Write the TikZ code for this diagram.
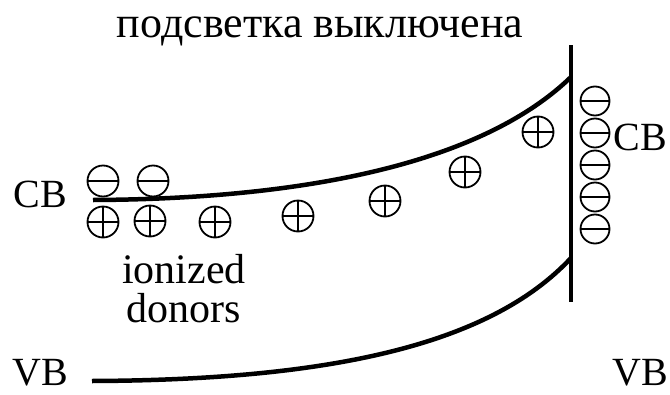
\documentclass[tikz,border=0pt]{standalone}
\usepackage{fontspec}
\setmainfont{Liberation Serif}
\begin{document}
\begin{tikzpicture}[x=1pt,y=-1pt,
  band/.style={line width=4.5pt},
  wall/.style={line width=4pt},
  charge/.style={circle,draw,line width=1.8pt,minimum size=31pt,inner sep=0pt},
  minus/.style={charge,path picture={
      \draw[line width=2pt] (path picture bounding box.west) -- (path picture bounding box.east);}},
  plus/.style={charge,path picture={
      \draw[line width=1.8pt] (path picture bounding box.west) -- (path picture bounding box.east);
      \draw[line width=1.8pt] (path picture bounding box.north) -- (path picture bounding box.south);}},
  bigtxt/.style={font=\fontsize{40}{44}\selectfont,inner sep=0pt,anchor=base},
]
\useasboundingbox (0,0) rectangle (670,394);

% title
\node[bigtxt,font=\fontsize{44}{48}\selectfont] (title) at (320,37) {подсветка выключена};

% band labels
\node[bigtxt] (cbL) at (40,207) {CB};
\node[bigtxt] (vbL) at (40,385) {VB};
\node[bigtxt] (cbR) at (640,150) {CB};
\node[bigtxt] (vbR) at (640,385) {VB};

% surface wall
\coordinate (wtop) at (571,45);
\coordinate (wbot) at (571,302);
\draw[wall] (wtop) -- (wbot);

% conduction and valence band edges
\coordinate (cbs) at (93,200);
\coordinate (cbe) at (571,77);
\coordinate (vbs) at (92,381);
\coordinate (vbe) at (571,258);
\draw[band] (cbs) .. controls (300,199) and (480,165) .. (cbe);
\draw[band] (vbs) .. controls (330,380) and (490,345) .. (vbe);

% free electrons in the bulk
\node[minus] (m1) at (103,181) {};
\node[minus] (m2) at (153,181) {};

% ionized donors in the depletion region
\node[plus] (p1) at (103,222) {};
\node[plus] (p2) at (150,221) {};
\node[plus] (p3) at (215,222) {};
\node[plus] (p4) at (298,216) {};
\node[plus] (p5) at (385,201) {};
\node[plus] (p6) at (465,172) {};
\node[plus] (p7) at (538,132) {};

% electrons trapped at the surface
\node[minus,minimum size=29pt] (s1) at (595,101) {};
\node[minus,minimum size=29pt] (s2) at (595,133) {};
\node[minus,minimum size=29pt] (s3) at (595,165) {};
\node[minus,minimum size=29pt] (s4) at (595,197) {};
\node[minus,minimum size=29pt] (s5) at (595,229) {};

% donor label (base anchor sits on the last line)
\node[font=\fontsize{42}{39}\selectfont,align=center,inner sep=0pt,anchor=base] (don) at (184,322) {ionized\\donors};
\end{tikzpicture}
\end{document}
